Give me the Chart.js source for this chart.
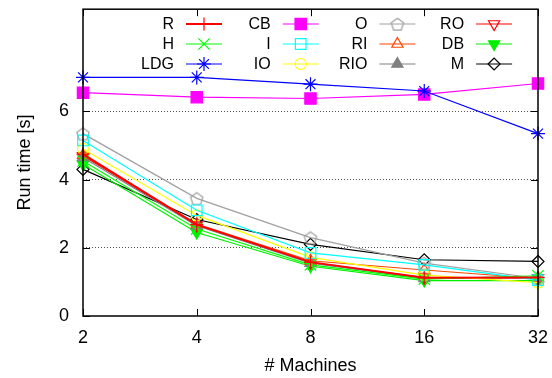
<!DOCTYPE html>
<html>
<head>
<meta charset="utf-8">
<script src="https://cdn.jsdelivr.net/npm/chart.js@4.4.0/dist/chart.umd.min.js"></script>
<style>
  html, body { margin: 0; padding: 0; background: #fff; }
  #wrap { width: 552px; height: 378px; }
</style>
</head>
<body>
<div id="wrap"><canvas id="runChart" width="552" height="378"></canvas></div>
<script>
// run time per number of machines, one array per method
const machines = ["2", "4", "8", "16", "32"];
const yTickValues = [0, 2, 4, 6];

const timeR   = [4.75, 2.68, 1.58, 1.12, 1.13];
const timeH   = [4.55, 2.55, 1.50, 1.08, 1.18];
const timeLDG = [7.00, 7.00, 6.80, 6.60, 5.35];
const timeCB  = [6.55, 6.42, 6.38, 6.50, 6.82];
const timeI   = [5.15, 3.10, 1.85, 1.50, 1.05];
const timeIO  = [4.90, 2.95, 1.72, 1.20, 0.98];
const timeO   = [5.35, 3.45, 2.30, 1.55, 1.10];
const timeRI  = [4.72, 2.70, 1.62, 1.35, 1.10];
const timeRIO = [4.65, 2.65, 1.55, 1.10, 1.12];
const timeRO  = [4.70, 2.66, 1.57, 1.13, 1.12];
const timeDB  = [4.45, 2.45, 1.46, 1.04, 1.04];
const timeM   = [4.30, 2.83, 2.10, 1.65, 1.60];

const seriesNames = ["R", "H", "LDG", "CB", "I", "IO", "O", "RI", "RIO", "RO", "DB", "M"];
const seriesData = [timeR, timeH, timeLDG, timeCB, timeI, timeIO, timeO, timeRI, timeRIO, timeRO, timeDB, timeM];

const FONT = '"Liberation Sans", Arial, sans-serif';

// gnuplot has a pentagon, chart.js doesn't
function pentagon(color) {
  const c = document.createElement("canvas");
  c.width = 16; c.height = 16;
  const g = c.getContext("2d");
  g.strokeStyle = color;
  g.lineWidth = 1.2;
  g.beginPath();
  for (let k = 0; k < 5; k++) {
    const a = -Math.PI / 2 + k * 2 * Math.PI / 5;
    const px = 8 + 6.5 * Math.cos(a), py = 8.8 + 6.5 * Math.sin(a);
    if (k) g.lineTo(px, py); else g.moveTo(px, py);
  }
  g.closePath();
  g.stroke();
  return c;
}

const none = "rgba(0,0,0,0)";
const styles = [
  { color: "#ff0000", point: "cross",    fill: none,      r: 6.5, w: 2 },
  { color: "#00ff00", point: "crossRot", fill: none,      r: 8,   w: 1.2 },
  { color: "#0000ff", point: "star",     fill: none,      r: 7,   w: 1.2 },
  { color: "#ff00ff", point: "rect",     fill: "#ff00ff", r: 8,   w: 1.2 },
  { color: "#00ffff", point: "rect",     fill: none,      r: 7.5, w: 1.2 },
  { color: "#ffff00", point: "circle",   fill: none,      r: 5.5, w: 1.2 },
  { color: "#a0a0a0", point: pentagon("#a0a0a0"), fill: none, r: 7, w: 1.2 },
  { color: "#ff4500", point: "triangle", fill: none,      r: 6.5, w: 1.2 },
  { color: "#808080", point: "triangle", fill: "#808080", r: 6.5, w: 1.2 },
  { color: "#ff0000", point: "triangle", fill: none,      r: 6.5, w: 1.2, rot: 180 },
  { color: "#00ee00", point: "triangle", fill: "#00ee00", r: 6.5, w: 1.2, rot: 180 },
  { color: "#000000", point: "rectRot",  fill: none,      r: 6,   w: 1.2 },
];

const datasets = seriesNames.map((name, i) => ({
  label: name,
  data: seriesData[i],
  borderColor: styles[i].color,
  backgroundColor: styles[i].fill,
  borderWidth: styles[i].w,
  pointStyle: styles[i].point,
  pointRadius: styles[i].r,
  pointRotation: styles[i].rot || 0,
  pointBackgroundColor: styles[i].fill,
  pointBorderColor: styles[i].color,
  pointBorderWidth: 1.2,
  tension: 0,
  clip: 12,
}));

// legend inside the plot, 4 columns x 3 rows, filled column by column
const gnuLegend = {
  id: "gnuLegend",
  afterDraw(chart) {
    const ctx = chart.ctx;
    chart.data.datasets.forEach((ds, i) => {
      const col = Math.floor(i / 3), row = i % 3;
      const tx = 174 + col * 96.7, ty = 24 + row * 20;
      ctx.save();
      ctx.font = "16px " + FONT;
      ctx.fillStyle = "#000";
      ctx.textAlign = "right";
      ctx.textBaseline = "middle";
      ctx.fillText(ds.label, tx, ty + 1);
      ctx.strokeStyle = ds.borderColor;
      ctx.lineWidth = ds.borderWidth;
      ctx.beginPath();
      ctx.moveTo(tx + 12, ty);
      ctx.lineTo(tx + 48, ty);
      ctx.stroke();
      ctx.fillStyle = ds.pointBackgroundColor;
      ctx.strokeStyle = ds.pointBorderColor;
      ctx.lineWidth = ds.pointBorderWidth;
      Chart.helpers.drawPoint(ctx, {
        pointStyle: ds.pointStyle, rotation: ds.pointRotation,
        radius: ds.pointRadius, borderWidth: ds.pointBorderWidth
      }, tx + 30, ty);
      ctx.restore();
    });
  }
};

// box around plot + inward ticks on all four sides
const frame = {
  id: "frame",
  afterDatasetsDraw(chart) {
    const { ctx, chartArea: a, scales: { x, y } } = chart;
    ctx.save();
    ctx.strokeStyle = "#000";
    ctx.lineWidth = 1.5;
    ctx.strokeRect(a.left, a.top, a.right - a.left, a.bottom - a.top);
    ctx.lineWidth = 1;
    ctx.beginPath();
    y.ticks.forEach(t => {
      const py = Math.round(y.getPixelForValue(t.value)) + 0.5;
      ctx.moveTo(a.left, py); ctx.lineTo(a.left + 7, py);
      ctx.moveTo(a.right, py); ctx.lineTo(a.right - 7, py);
    });
    x.ticks.forEach((t, i) => {
      const px = Math.round(x.getPixelForTick(i)) + 0.5;
      ctx.moveTo(px, a.bottom); ctx.lineTo(px, a.bottom - 7);
      ctx.moveTo(px, a.top); ctx.lineTo(px, a.top + 7);
    });
    ctx.stroke();
    ctx.restore();
  }
};

new Chart(document.getElementById("runChart"), {
  type: "line",
  data: { labels: machines, datasets },
  plugins: [frame, gnuLegend],
  options: {
    responsive: false,
    animation: false,
    layout: { padding: { top: 8, right: 14, left: 0, bottom: 0 } },
    plugins: { legend: { display: false }, tooltip: { enabled: false } },
    scales: {
      x: {
        type: "category",
        offset: false,
        afterFit: s => { s.height = 62; s.paddingLeft = 0; s.paddingRight = 0; },
        grid: { display: false, drawTicks: false },
        border: { display: false },
        ticks: { color: "#000", font: { family: FONT, size: 18 }, padding: 11, maxRotation: 0 },
        title: { display: true, text: "# Machines", color: "#000",
                 font: { family: FONT, size: 18 }, padding: { top: 0, bottom: 1 } },
      },
      y: {
        min: 0,
        max: 9,
        afterFit: s => { s.width = 83; s.paddingTop = 0; s.paddingBottom = 0; },
        afterBuildTicks: s => { s.ticks = yTickValues.map(v => ({ value: v })); },
        grid: {
          drawTicks: false,
          color: c => (c.tick && c.tick.value === 0) ? none : "#555",
          lineWidth: 1,
        },
        border: { display: false, dash: [1, 2] },
        ticks: { color: "#000", font: { family: FONT, size: 18 }, padding: 14 },
        title: { display: true, text: "Run time [s]", color: "#000",
                 font: { family: FONT, size: 18 }, padding: { top: 14, bottom: 0 } },
      }
    }
  }
});
</script>
</body>
</html>
